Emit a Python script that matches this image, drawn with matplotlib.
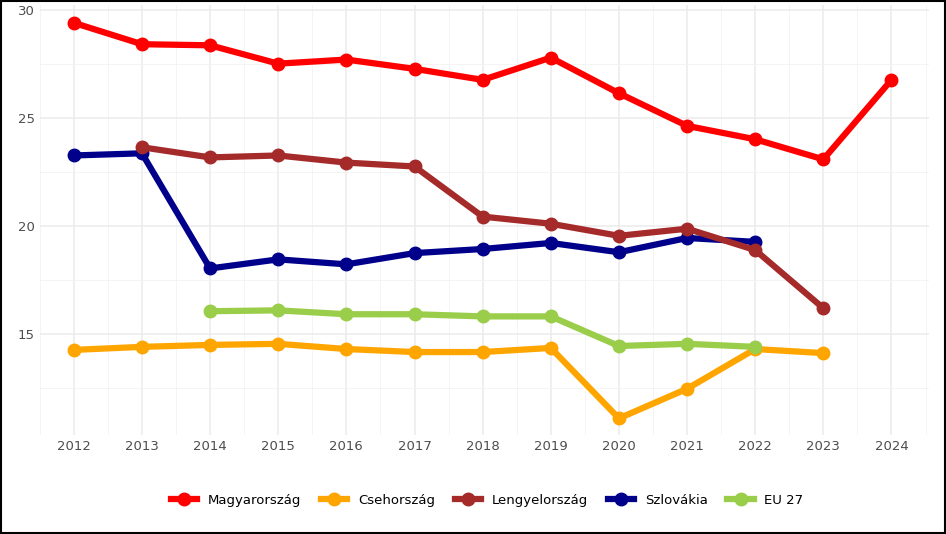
import matplotlib
matplotlib.use("Agg")
import matplotlib.pyplot as plt
from matplotlib.patches import Rectangle

years = list(range(2012, 2025))
magyar = [29.39, 28.4, 28.35, 27.5, 27.69, 27.26, 26.75, 27.78, 26.13, 24.62, 24.0, 23.07, 26.75]
cseh = [14.25, 14.39, 14.48, 14.53, 14.29, 14.15, 14.15, 14.34, 11.08, 12.45, 14.29, 14.1]
lengyel_years = list(range(2013, 2024))
lengyel = [23.63, 23.16, 23.25, 22.92, 22.74, 20.42, 20.09, 19.53, 19.86, 18.87, 16.18]
szlov_years = list(range(2012, 2023))
szlov = [23.25, 23.35, 18.02, 18.44, 18.21, 18.73, 18.92, 19.2, 18.77, 19.43, 19.25]
eu_years = list(range(2014, 2023))
eu = [16.04, 16.08, 15.9, 15.9, 15.8, 15.8, 14.43, 14.53, 14.39]

fig = plt.figure(figsize=(9.46, 5.34), dpi=100)
ax = fig.add_axes([0.042, 0.185, 0.94, 0.805])
series = [
    ("Magyarország", years, magyar, "#FF0000", 3),
    ("Csehország", years[:12], cseh, "#FFA500", 3),
    ("Szlovákia", szlov_years, szlov, "#00008B", 3),
    ("Lengyelország", lengyel_years, lengyel, "#A52A2A", 4),
    ("EU 27", eu_years, eu, "#9ACD4A", 5),
]
handles = {}
for name, x, y, c, z in series:
    h, = ax.plot(x, y, color=c, lw=4.5, marker="o", ms=9, zorder=z, label=name)
    handles[name] = h

ax.set_xlim(2011.5, 2024.55)
ax.set_ylim(10.3, 30.2)
ax.set_xticks(years)
ax.set_yticks([15, 20, 25, 30])
ax.set_xticks([y + 0.5 for y in range(2011, 2025)], minor=True)
ax.set_yticks([12.5, 17.5, 22.5, 27.5], minor=True)
ax.grid(True, which="major", color="#EBEBEB", lw=1.1)
ax.grid(True, which="minor", color="#F2F2F2", lw=0.6)
ax.set_axisbelow(True)
for s in ax.spines.values():
    s.set_visible(False)
ax.tick_params(which="both", length=0, labelsize=9.5, colors="#4D4D4D")
order = ["Magyarország", "Csehország", "Lengyelország", "Szlovákia", "EU 27"]
fig.legend([handles[n] for n in order], order, loc="center", bbox_to_anchor=(0.515, 0.063),
           ncol=5, frameon=False, fontsize=9.5, handlelength=2, columnspacing=1.5)
fig.patches.append(Rectangle((0.001, 0.001), 0.998, 0.998, transform=fig.transFigure,
                             fill=False, edgecolor="black", lw=1.5))
fig.savefig("out.png", dpi=100)
